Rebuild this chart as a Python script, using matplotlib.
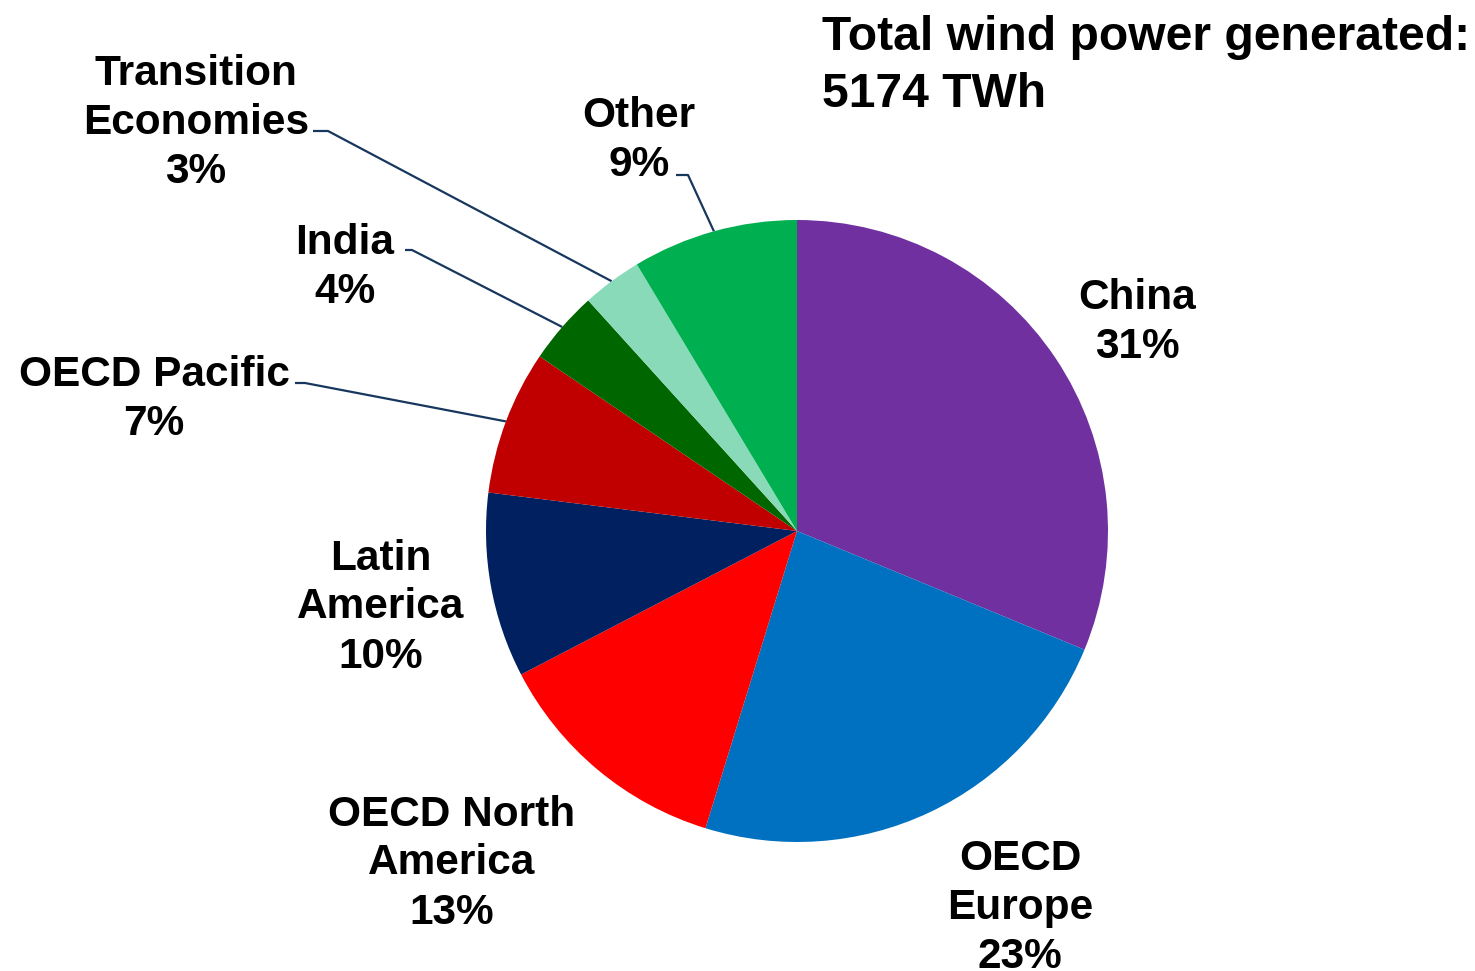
import numpy as np
import matplotlib
matplotlib.use("Agg")
import matplotlib.pyplot as plt
from matplotlib import font_manager

regions = ["China", "OECD Europe", "OECD North America", "Latin America",
           "OECD Pacific", "India", "Transition Economies", "Other"]
shares = [31.2, 23.5, 12.6, 9.6, 7.5, 3.8, 3.1, 8.6]
label_texts = ["China\n31%", "OECD\nEurope\n23%", "OECD North\nAmerica\n13%",
               "Latin\nAmerica\n10%", "OECD Pacific\n7%", "India\n4%",
               "Transition\nEconomies\n3%", "Other\n9%"]
colors = ["#7030A0", "#0070C0", "#FF0000", "#002060",
          "#C00000", "#006600", "#88DAB8", "#00B050"]
title_text = "Total wind power generated:\n5174 TWh"

names = {f.name for f in font_manager.fontManager.ttflist}
fam = ["Liberation Sans Narrow", "Liberation Sans", "DejaVu Sans"]
fam = [f for f in fam if f in names] or ["DejaVu Sans"]

W, H = 1475, 971
fig = plt.figure(figsize=(W / 100, H / 100), dpi=100)
ax = fig.add_axes([0, 0, 1, 1])

cx, cy, R = 797, H - 531, 311
wedges, _ = ax.pie(shares, colors=colors, startangle=90, counterclock=False,
                   center=(cx, cy), radius=R,
                   wedgeprops=dict(linewidth=0))
ax.set_xlim(0, W)
ax.set_ylim(0, H)
ax.set_aspect("equal")
ax.axis("off")

layout = {
    "China": (1137, 293, None),
    "OECD Europe": (1020, 855, None),
    "OECD North America": (452, 810, None),
    "Latin America": (381, 554, None),
    "OECD Pacific": (154, 370, (295, 383, 305)),
    "India": (345, 238, (405, 250, 412)),
    "Transition Economies": (196, 69, (313, 131, 328)),
    "Other": (639, 111, (676, 175, 688)),
}
line_h = 49
fs = 30.5
for name, txt, w in zip(regions, label_texts, wedges):
    x, y0, leader = layout[name]
    lines = txt.split("\n")
    for i, ln in enumerate(lines):
        ax.text(x, H - (y0 + i * line_h), ln, ha="center", va="center_baseline",
                fontsize=fs, fontweight="bold", family=fam, color="black")
    if leader is not None:
        lx0, ly, lx1 = leader
        mid = np.deg2rad((w.theta1 + w.theta2) / 2)
        ex, ey = cx + R * np.cos(mid), cy + R * np.sin(mid)
        ax.plot([lx0, lx1, ex], [H - ly, H - ly, ey], color="#17375E",
                lw=1.6, solid_capstyle="butt", zorder=0)

tl = title_text.split("\n")
for i, ln in enumerate(tl):
    ax.text(822, H - (32 + i * 57), ln, ha="left", va="center_baseline",
            fontsize=34.6, fontweight="bold", family=fam, color="black")

fig.savefig("out.png", dpi=100)
